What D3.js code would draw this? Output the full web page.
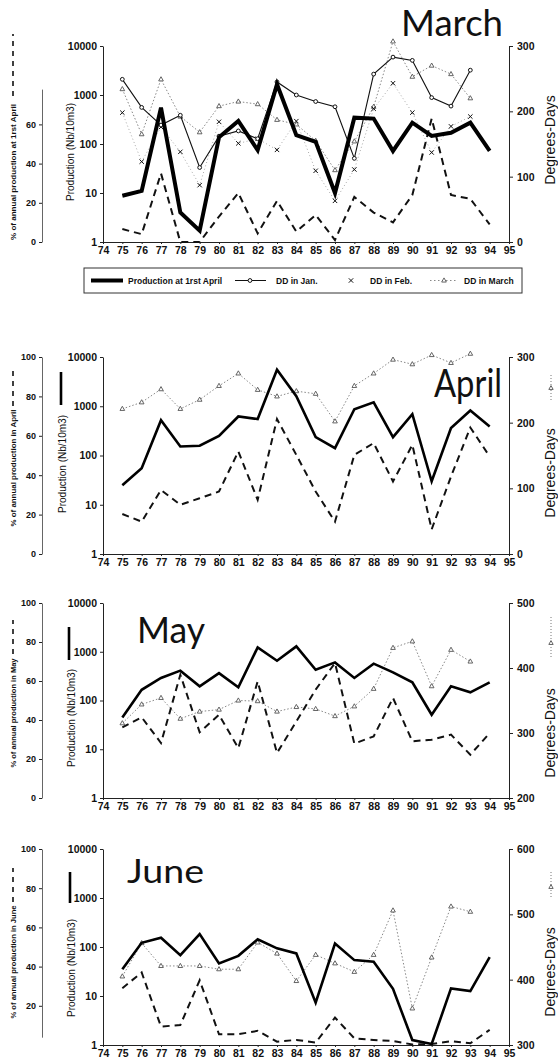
<!DOCTYPE html>
<html><head><meta charset="utf-8">
<script src="https://cdn.jsdelivr.net/npm/d3@7"></script>
<style>
body{margin:0;background:#fff}
svg{display:block}
text{font-family:"Liberation Sans",Arial,sans-serif;fill:#111}
</style></head><body>
<svg id="c" width="558" height="1064"></svg>
<script>
// ---------- data ----------
const yearTicks = [74,75,76,77,78,79,80,81,82,83,84,85,86,87,88,89,90,91,92,93,94,95];
const years = [75,76,77,78,79,80,81,82,83,84,85,86,87,88,89,90,91,92,93,94];
const ddYears = [75,76,77,78,79,80,81,82,83,84,85,86,87,88,89,90,91,92,93];
const prodTicks = [1,10,100,1000,10000];

// March panel
const marchProduction = [8.8,11,550,4,1.7,137,295,75,1650,152,111,10,345,330,72,272,146,170,272,72];
const marchPercent = [6.6,4,35,0,0,13,25,4.4,21,5.3,13.8,1,23,15,10,24,63,24,22,9];
const marchDDJan = [249,206,179,194,114,162,170,158,245,225,215,207,128,257,283,278,221,208,263];
const marchDDFeb = [198,123,176,138,87,184,151,158,141,185,109,63,111,204,243,198,137,177,192];
const marchDDMar = [234,165,249,192,168,208,215,211,187,180,155,110,154,207,307,253,270,257,220];
const marchDDTicks = [0,100,200,300];
const marchPctTicks = [0,20,40,60];

// April panel
const aprilProduction = [25,55,520,152,158,250,620,550,5500,1600,236,141,870,1200,236,690,30,360,820,390];
const aprilPercent = [20.3,16.4,32.5,25,28.3,31.7,52,27.5,68.5,50.3,31.7,16.4,50.3,56.3,36.8,55.4,12.5,39.3,64.2,49.5];
const aprilDD = [221,231,251,221,235,256,275,250,240,248,244,202,256,275,296,289,303,291,305];
const aprilDDTicks = [0,100,200,300];
const aprilPctTicks = [0,20,40,60,80,100];

// May panel
const mayProduction = [45,166,290,410,195,365,186,1230,655,1290,428,605,290,570,378,236,51,195,147,236];
const mayPercent = [36.2,41.4,28.2,63.2,33.7,42.7,25.6,59.8,23.1,39.3,55.6,69.2,27.9,31.6,51.3,29.1,29.9,32.5,22.2,33.3];
const mayDD = [315,344,354,322,333,336,350,349,333,340,337,326,341,368,431,441,372,428,410];
const mayDDTicks = [200,300,400,500];
const mayPctTicks = [0,20,40,60,80,100];

// June panel
const juneProduction = [35,122,155,68,184,46,66,144,94,74,7.3,118,54,50,14,1.26,1.05,14.3,12.6,62];
const junePercent = [29,37,9.4,10.2,33,5.5,5.5,7.2,1.7,2.6,1.2,14,3.4,2.6,2,0.3,0.5,2,0.9,7.7];
const juneDD = [405,456,421,421,421,416,416,457,440,398,438,425,412,438,506,356,434,512,504];
const juneDDTicks = [300,400,500,600];
const junePctTicks = [20,40,60,80,100];

const legendLabels = ["Production at 1rst April","DD in Jan.","DD in Feb.","DD in March"];

// ---------- drawing ----------
const svg = d3.select("#c");
const x = d3.scaleLinear().domain([74,95]).range([103,509]);
const zip = (xs, ys) => xs.map((v,i)=>[v, ys[i]]);

function triangle(g, cx, cy, s, stroke){
  g.append("path").attr("d", `M${cx},${cy-s}L${cx+s*0.9},${cy+s*0.6}L${cx-s*0.9},${cy+s*0.6}Z`)
   .attr("fill","#fff").attr("stroke",stroke).attr("stroke-width",0.9);
}
function cross(g, cx, cy, s){
  g.append("path").attr("d",`M${cx-s},${cy-s}L${cx+s},${cy+s}M${cx-s},${cy+s}L${cx+s},${cy-s}`)
   .attr("stroke","#111").attr("stroke-width",1);
}
function circle(g, cx, cy, r){
  g.append("circle").attr("cx",cx).attr("cy",cy).attr("r",r).attr("fill","#fff").attr("stroke","#111").attr("stroke-width",1);
}

function styleAxis(sel, size, weight){
  sel.selectAll("text").style("font-size",size+"px").style("font-weight",weight).attr("fill","#111");
  sel.selectAll("path.domain").attr("stroke","#222").attr("stroke-width",1);
  sel.selectAll(".tick line").attr("stroke","#222");
}

function panel(p){
  const g = svg.append("g");
  const yP = d3.scaleLog().domain([1,10000]).range([p.bottom,p.top]);
  const yPct = d3.scaleLinear().domain([0,100]).range([p.bottom,p.top]);
  const yDD = d3.scaleLinear().domain(p.ddDomain).range([p.bottom,p.top]);

  // axes
  const ax = g.append("g").attr("transform",`translate(0,${p.bottom})`)
    .call(d3.axisBottom(x).tickValues(yearTicks).tickFormat(d=>d).tickSizeInner(2).tickSizeOuter(0).tickPadding(3));
  styleAxis(ax, 10.5, "bold");
  const ay = g.append("g").attr("transform",`translate(${x(74)},0)`)
    .call(d3.axisLeft(yP).tickValues(prodTicks).tickFormat(d3.format("d")).tickSizeInner(3).tickSizeOuter(0).tickPadding(3));
  styleAxis(ay, 10.5, "bold");
  const ar = g.append("g").attr("transform",`translate(${x(95)},0)`)
    .call(d3.axisRight(yDD).tickValues(p.ddTicks).tickSizeInner(4).tickSizeOuter(0).tickPadding(4));
  styleAxis(ar, 10.5, "bold");
  const pctAxisScale = d3.scaleLinear().domain(p.pctDomain).range(p.pctDomain.map(yPct));
  const ap = g.append("g").attr("transform",`translate(42,0)`)
    .call(d3.axisLeft(pctAxisScale).tickValues(p.pctTicks).tickSizeInner(3).tickSizeOuter(0).tickPadding(3));
  styleAxis(ap, 9, "bold");
  ap.selectAll("path.domain").attr("stroke","#666");

  // DD series
  const lineDD = d3.line().x(d=>x(d[0])).y(d=>yDD(d[1]));
  p.dd.forEach(s=>{
    const pts = zip(ddYears, s.values);
    g.append("path").attr("d",lineDD(pts)).attr("fill","none")
      .attr("stroke",s.color).attr("stroke-width",s.width).attr("stroke-dasharray",s.dash||null);
    pts.forEach(d=>{
      const cx = x(d[0]), cy = yDD(d[1]);
      if(s.marker==="tri") triangle(g,cx,cy,2.6,"#555");
      else if(s.marker==="circ") circle(g,cx,cy,1.9);
      else cross(g,cx,cy,2.2);
    });
  });

  // percent dashed line
  const linePct = d3.line().x(d=>x(d[0])).y(d=>yPct(d[1]));
  g.append("path").attr("d",linePct(zip(years,p.percent))).attr("fill","none")
    .attr("stroke","#111").attr("stroke-width",2).attr("stroke-dasharray","7,5");

  // production line
  const lineP = d3.line().x(d=>x(d[0])).y(d=>yP(d[1]));
  g.append("path").attr("d",lineP(zip(years,p.production))).attr("fill","none")
    .attr("stroke","#000").attr("stroke-width",p.prodWidth).attr("stroke-linejoin","miter");

  // titles and labels
  g.append("text").attr("x",p.title.x).attr("y",p.title.y).text(p.title.text)
    .style("font-family","Lato, 'DejaVu Sans', sans-serif").style("font-size",p.title.size+"px")
    .attr("textLength",p.title.w).attr("lengthAdjust","spacingAndGlyphs");

  g.append("text").attr("transform",`translate(${p.prodLabel.x+3.5},${p.prodLabel.y}) rotate(-90)`)
    .attr("text-anchor","middle").style("font-size","10px")
    .attr("textLength",98).attr("lengthAdjust","spacingAndGlyphs").text("Production (Nb/10m3)");
  g.append("text").attr("transform",`translate(16,${p.pctLabel.y}) rotate(-90)`)
    .attr("text-anchor","middle").style("font-size","8px").style("font-weight","bold")
    .attr("textLength",p.pctLabel.len).attr("lengthAdjust","spacingAndGlyphs").text(p.pctLabel.text);
  g.append("line").attr("x1",13).attr("x2",13).attr("y1",p.pctLabel.d0).attr("y2",p.pctLabel.d1)
    .attr("stroke","#111").attr("stroke-width",1.6).attr("stroke-dasharray","5,5");
  g.append("text").attr("transform",`translate(555,${p.ddLabelY}) rotate(-90)`)
    .attr("text-anchor","middle").style("font-size","14px").text("Degrees-Days");

  if(p.bar){
    g.append("line").attr("x1",p.bar.x).attr("x2",p.bar.x).attr("y1",p.bar.y0).attr("y2",p.bar.y1)
      .attr("stroke","#000").attr("stroke-width",2.6);
  }
  if(p.ddSym){
    g.append("line").attr("x1",551).attr("x2",551).attr("y1",p.ddSym.y0).attr("y2",p.ddSym.y1)
      .attr("stroke","#777").attr("stroke-width",1).attr("stroke-dasharray","1,2");
    triangle(g,551,p.ddSym.ym,2.4,"#555");
  }
}

panel({
  top:46, bottom:242, ddDomain:[0,300], ddTicks:marchDDTicks, pctTicks:marchPctTicks, pctDomain:[0,78],
  production:marchProduction, percent:marchPercent, prodWidth:4,
  dd:[
    {values:marchDDMar, color:"#888", width:1, dash:"1.5,2", marker:"tri"},
    {values:marchDDFeb, color:"#aaa", width:1, dash:"1,2.5", marker:"x"},
    {values:marchDDJan, color:"#111", width:1.1, marker:"circ"}
  ],
  title:{text:"March", x:401, y:36, size:36, w:102},
  prodLabel:{x:70, y:152}, ddLabelY:140,
  pctLabel:{text:"% of annual production at 1rst April", y:172, len:136, d0:96, d1:34}
});
panel({
  top:357, bottom:554, ddDomain:[0,300], ddTicks:aprilDDTicks, pctTicks:aprilPctTicks, pctDomain:[0,100],
  production:aprilProduction, percent:aprilPercent, prodWidth:2.6,
  dd:[{values:aprilDD, color:"#888", width:1, dash:"1.5,2", marker:"tri"}],
  title:{text:"April", x:434, y:397, size:38, w:68},
  prodLabel:{x:62, y:464}, ddLabelY:473,
  pctLabel:{text:"% of annual production in April", y:468, len:117, d0:406, d1:371},
  bar:{x:61, y0:372, y1:405}, ddSym:{y0:375, y1:400, ym:388}
});
panel({
  top:603, bottom:798, ddDomain:[200,500], ddTicks:mayDDTicks, pctTicks:mayPctTicks, pctDomain:[0,100],
  production:mayProduction, percent:mayPercent, prodWidth:2.6,
  dd:[{values:mayDD, color:"#888", width:1, dash:"1.5,2", marker:"tri"}],
  title:{text:"May", x:137, y:643, size:36, w:68},
  prodLabel:{x:71, y:718}, ddLabelY:733,
  pctLabel:{text:"% of annual production in May", y:713, len:109, d0:654, d1:620},
  bar:{x:69, y0:627, y1:660}, ddSym:{y0:617, y1:657, ym:643}
});
panel({
  top:849, bottom:1045, ddDomain:[300,600], ddTicks:juneDDTicks, pctTicks:junePctTicks, pctDomain:[4,100],
  production:juneProduction, percent:junePercent, prodWidth:2.6,
  dd:[{values:juneDD, color:"#888", width:1, dash:"1.5,2", marker:"tri"}],
  title:{text:"June", x:127, y:883, size:33, w:77},
  prodLabel:{x:71, y:968}, ddLabelY:972,
  pctLabel:{text:"% of annual production in June", y:962, len:113, d0:902, d1:868},
  bar:{x:70, y0:872, y1:903}, ddSym:{y0:872, y1:898, ym:887}
});

// March legend box
const lg = svg.append("g");
lg.append("rect").attr("x",84).attr("y",268).attr("width",438).attr("height",25)
  .attr("fill","none").attr("stroke","#333").attr("stroke-width",1);
const ly = 280.5;
lg.append("line").attr("x1",91).attr("x2",123).attr("y1",ly).attr("y2",ly).attr("stroke","#000").attr("stroke-width",4);
lg.append("line").attr("x1",235).attr("x2",266).attr("y1",ly).attr("y2",ly).attr("stroke","#111").attr("stroke-width",1);
circle(lg,250,ly,1.9);
cross(lg,351,ly,2.2);
lg.append("line").attr("x1",430).attr("x2",458).attr("y1",ly).attr("y2",ly).attr("stroke","#888").attr("stroke-dasharray","1.5,2.5");
triangle(lg,444,ly,2.6,"#555");
const legX = [128,276,370,464];
legendLabels.forEach((t,i)=>{
  lg.append("text").attr("x",legX[i]).attr("y",ly+3).style("font-size","8.5px").style("font-weight","bold").text(t);
});
</script>
</body></html>
